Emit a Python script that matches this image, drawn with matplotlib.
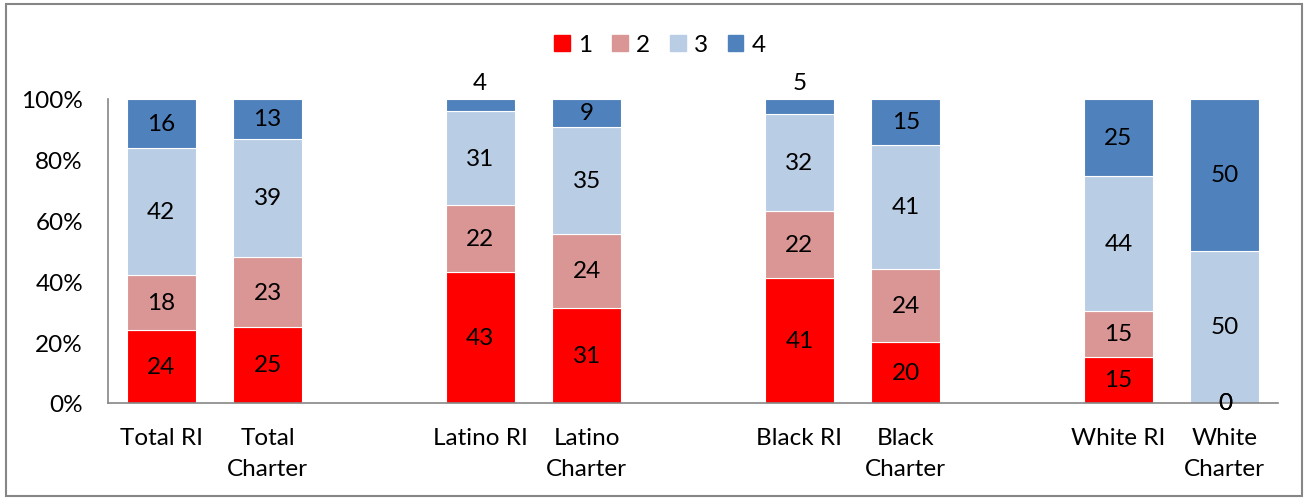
import matplotlib
matplotlib.use("Agg")
import matplotlib.pyplot as plt
import numpy as np

# Category labels (empty strings are spacer slots between groups)
categories = ["Total RI", "Total\nCharter", "", "Latino RI", "Latino\nCharter", "",
              "Black RI", "Black\nCharter", "", "White RI", "White\nCharter"]
series_names = ["1", "2", "3", "4"]
s1 = [24, 25, None, 43, 31, None, 41, 20, None, 15, 0]
s2 = [18, 23, None, 22, 24, None, 22, 24, None, 15, 0]
s3 = [42, 39, None, 31, 35, None, 32, 41, None, 44, 50]
s4 = [16, 13, None, 4, 9, None, 5, 15, None, 25, 50]
colors = ["#FF0000", "#D99694", "#B9CDE5", "#4F81BD"]

plt.rcParams["font.family"] = ["Lato", "DejaVu Sans"]
FS = 17.5

fig = plt.figure(figsize=(13.08, 5.02), dpi=100)
ax = fig.add_axes([108 / 1308, 98 / 502, 1170 / 1308, 304 / 502])

# Figure border
fig.patches.append(plt.Rectangle((6 / 1308, 5 / 502), 1296 / 1308, 492 / 502,
                                 transform=fig.transFigure, fill=False,
                                 edgecolor="#868686", linewidth=1.5))

x = np.arange(len(categories))
series = [s1, s2, s3, s4]
width = 0.65

handles = []
for i in x:
    vals = [s[i] for s in series]
    if vals[0] is None:
        continue
    total = sum(vals)
    bottom = 0.0
    for k, v in enumerate(vals):
        h = v / total
        ax.bar(i, h, width, bottom=bottom, color=colors[k], edgecolor="white", linewidth=0.8)
        if 0 < v < 6:
            ax.text(i, 1.055, str(v), ha="center", va="center", fontsize=FS)
        else:
            ax.text(i, bottom + h / 2, str(v), ha="center", va="center", fontsize=FS)
        bottom += h

for k, name in enumerate(series_names):
    handles.append(plt.Rectangle((0, 0), 1, 1, color=colors[k], label=name))

ax.set_xlim(-0.5, len(categories) - 0.5)
ax.set_ylim(0, 1)
ax.set_yticks(np.arange(0, 1.01, 0.2))
ax.set_yticklabels([f"{int(round(t * 100))}%" for t in np.arange(0, 1.01, 0.2)], fontsize=FS)
ax.set_xticks(x)
ax.set_xticklabels(categories, fontsize=FS, linespacing=1.6)
ax.tick_params(axis="both", length=0)
ax.tick_params(axis="y", pad=18)
ax.tick_params(axis="x", pad=17)
for side in ["top", "right"]:
    ax.spines[side].set_visible(False)
for side in ["left", "bottom"]:
    ax.spines[side].set_color("#868686")
    ax.spines[side].set_linewidth(1.2)

fig.legend(handles=handles, loc="center", bbox_to_anchor=(660 / 1308, 1 - 46 / 502),
           ncol=4, frameon=False, fontsize=FS, handlelength=0.65, handleheight=0.65,
           handletextpad=0.35, columnspacing=0.8)

fig.savefig("out.png", dpi=100)
